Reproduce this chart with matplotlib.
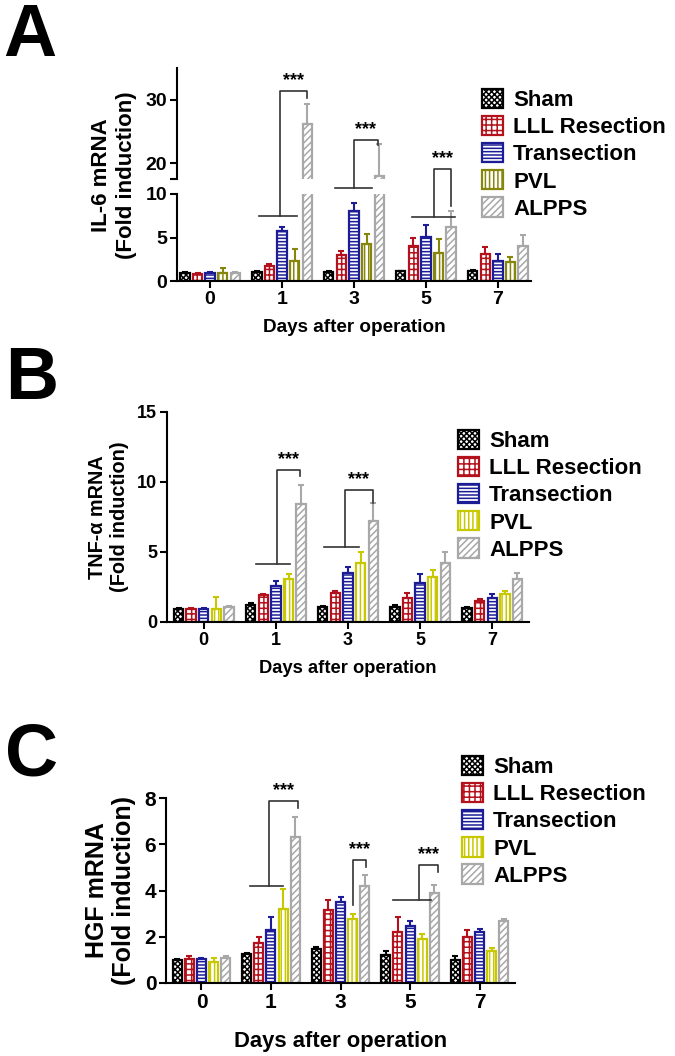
import numpy as np
import matplotlib
matplotlib.use('Agg')
import matplotlib.pyplot as plt
from matplotlib.patches import Patch
from matplotlib.lines import Line2D

plt.rcParams['font.family'] = ['Liberation Sans', 'DejaVu Sans']
plt.rcParams['font.weight'] = 'bold'
plt.rcParams['axes.labelweight'] = 'bold'
plt.rcParams['hatch.linewidth'] = 1.1

days = ['0', '1', '3', '5', '7']
groups = ['Sham', 'LLL Resection', 'Transection', 'PVL', 'ALPPS']

# rows follow groups, columns follow days
il6_mean = [[0.9, 1.0, 1.0, 1.1, 1.1],
            [0.85, 1.7, 3.0, 4.0, 3.1],
            [0.9, 5.8, 8.1, 5.1, 2.3],
            [0.9, 2.3, 4.2, 3.2, 2.2],
            [0.9, 26.2, 18.0, 6.2, 4.0]]
il6_err = [[0.1, 0.1, 0.1, 0.1, 0.15],
           [0.1, 0.3, 0.4, 1.0, 0.8],
           [0.1, 0.4, 0.9, 1.3, 0.8],
           [0.6, 1.4, 1.2, 1.6, 0.6],
           [0.1, 3.2, 5.0, 1.8, 1.3]]

tnf_mean = [[0.95, 1.25, 1.05, 1.1, 1.0],
            [0.95, 1.9, 2.1, 1.7, 1.5],
            [0.95, 2.6, 3.5, 2.8, 1.7],
            [0.9, 3.1, 4.2, 3.2, 2.0],
            [1.1, 8.4, 7.2, 4.2, 3.1]]
tnf_err = [[0.05, 0.1, 0.1, 0.1, 0.1],
           [0.05, 0.1, 0.15, 0.4, 0.15],
           [0.05, 0.3, 0.4, 0.6, 0.3],
           [0.9, 0.35, 0.8, 0.5, 0.2],
           [0.05, 1.4, 1.3, 0.8, 0.4]]

hgf_mean = [[1.0, 1.25, 1.45, 1.2, 1.0],
            [1.05, 1.75, 3.15, 2.2, 2.0],
            [1.05, 2.3, 3.5, 2.45, 2.2],
            [0.9, 3.2, 2.75, 1.9, 1.4],
            [1.1, 6.3, 4.2, 3.9, 2.7]]
hgf_err = [[0.05, 0.05, 0.1, 0.2, 0.15],
           [0.1, 0.25, 0.45, 0.65, 0.3],
           [0.05, 0.55, 0.2, 0.25, 0.15],
           [0.2, 0.85, 0.25, 0.2, 0.1],
           [0.05, 0.9, 0.45, 0.35, 0.05]]

colors_a = ['black', '#b3121c', '#1c1c96', '#86860c', '#a8a8a8']
colors_bc = ['black', '#b3121c', '#1c1c96', '#c8c800', '#a8a8a8']
hatches = ['xxxxxx', '+++', '-----', '||||', '/////']
step, width = 0.175, 0.13
LINE = '#333333'

W, H = 675, 1056
fig = plt.figure(figsize=(W / 100, H / 100), dpi=100)


def box(l, t, r, b):
    return [l / W, 1 - b / H, (r - l) / W, (b - t) / H]


def draw_bars(ax, mean, err, colors):
    x = np.arange(len(days))
    for k in range(len(groups)):
        e = np.array(err[k])
        ax.bar(x + (k - 2) * step, mean[k], width, yerr=[np.zeros_like(e), e],
               color='white', edgecolor=colors[k], hatch=hatches[k], linewidth=1.6,
               capsize=2.5, zorder=2,
               error_kw=dict(ecolor=colors[k], elinewidth=1.5, capthick=1.5, zorder=1))


def style(ax, fs, xlim):
    for s in ['top', 'right']:
        ax.spines[s].set_visible(False)
    for s in ['left', 'bottom']:
        ax.spines[s].set_linewidth(1.5)
    ax.tick_params(width=1.5, length=5, labelsize=fs, pad=2)
    ax.set_xlim(*xlim)
    ax.set_xticks(np.arange(len(days)), days)


def to_fig(pairs, x, y):
    # pairs: list of (axes, lowest value shown in it), highest first
    for ax, lo in pairs:
        if y >= lo:
            break
    p = ax.transData.transform((x, y))
    return fig.transFigure.inverted().transform(p)


def sig(pairs, g, stem, y0, top, end, drop, under=None, fs=13):
    if under is not None:
        xl, xr = under
        pts = [to_fig(pairs, g + xl, y0), to_fig(pairs, g + xr, y0)]
        fig.add_artist(Line2D([pts[0][0], pts[1][0]], [pts[0][1], pts[1][1]],
                              color=LINE, lw=1.2, transform=fig.transFigure))
    pts = [to_fig(pairs, g + stem, y0), to_fig(pairs, g + stem, top),
           to_fig(pairs, g + end, top), to_fig(pairs, g + end, drop)]
    pts[2][1] = pts[1][1]
    fig.add_artist(Line2D([p[0] for p in pts], [p[1] for p in pts],
                          color=LINE, lw=1.2, transform=fig.transFigure))
    fig.text((pts[1][0] + pts[2][0]) / 2, pts[1][1] + 0.002, '***',
             ha='center', va='bottom', fontsize=fs, color='black')


def legend(x, y, colors, fs):
    handles = [Patch(facecolor='white', edgecolor=c, hatch=h, linewidth=1.6)
               for c, h in zip(colors, hatches)]
    fig.legend(handles, groups, loc='upper left', bbox_to_anchor=(x / W, 1 - y / H),
               frameon=False, fontsize=fs, handlelength=0.95, handleheight=0.95,
               handletextpad=0.45, labelspacing=0.22, borderpad=0, borderaxespad=0)


# ---- A: IL-6, broken y axis
ax_lo = fig.add_axes(box(177, 194, 531, 281))
ax_hi = fig.add_axes(box(177, 68, 531, 179))
draw_bars(ax_lo, il6_mean, il6_err, colors_a)
draw_bars(ax_hi, il6_mean, il6_err, colors_a)
style(ax_lo, 14, (-0.46, 4.46))
style(ax_hi, 14, (-0.46, 4.46))
ax_lo.set_ylim(0, 10)
ax_lo.set_yticks([0, 5, 10])
ax_hi.set_ylim(17.5, 35)
ax_hi.set_yticks([17.5, 20, 30], ['', '20', '30'])
ax_hi.spines['bottom'].set_visible(False)
ax_hi.tick_params(axis='x', bottom=False, labelbottom=False)
ax_lo.set_xlabel('Days after operation', fontsize=13.6, labelpad=8)
fig.text(114 / W, 1 - 175 / H, 'IL-6 mRNA\n(Fold induction)', rotation=90,
         ha='center', va='center', fontsize=16, multialignment='center')
pa = [(ax_hi, 12), (ax_lo, -1)]
sig(pa, 1, -0.03, 7.5, 31.3, 0.35, 30.3, under=(-0.32, 0.21))
sig(pa, 2, 0.0, 10.7, 23.6, 0.33, 22.9, under=(-0.26, 0.25))
sig(pa, 3, 0.11, 7.4, 19.0, 0.35, 8.6, under=(-0.2, 0.4))
legend(482, 89, colors_a, 16)
fig.text(3 / W, 1 - 2 / H, 'A', fontsize=53, ha='left', va='top')

# ---- B: TNF-alpha
ax_b = fig.add_axes(box(167, 412, 529, 622))
draw_bars(ax_b, tnf_mean, tnf_err, colors_bc)
style(ax_b, 13, (-0.51, 4.51))
ax_b.set_ylim(0, 15)
ax_b.set_yticks([0, 5, 10, 15])
ax_b.set_xlabel('Days after operation', fontsize=13.2, labelpad=8)
ax_b.set_ylabel('TNF-\u03b1 mRNA\n(Fold induction)', fontsize=14.3, labelpad=6)
pb = [(ax_b, -1)]
sig(pb, 1, 0.01, 4.13, 10.85, 0.33, 10.4, under=(-0.28, 0.19))
sig(pb, 2, -0.04, 5.35, 9.43, 0.34, 8.5, under=(-0.33, 0.15))
legend(458, 430, colors_bc, 16)
fig.text(5 / W, 1 - 345 / H, 'B', fontsize=53, ha='left', va='top')

# ---- C: HGF
ax_c = fig.add_axes(box(166, 798, 515, 983))
draw_bars(ax_c, hgf_mean, hgf_err, colors_bc)
style(ax_c, 15, (-0.51, 4.51))
ax_c.set_ylim(0, 8)
ax_c.set_yticks([0, 2, 4, 6, 8])
ax_c.set_xlabel('Days after operation', fontsize=15.8, labelpad=14)
ax_c.set_ylabel('HGF mRNA\n(Fold induction)', fontsize=18, labelpad=6)
pc = [(ax_c, -1)]
sig(pc, 1, -0.03, 4.2, 7.85, 0.39, 7.58, under=(-0.3, 0.17))
sig(pc, 2, 0.18, 3.37, 5.32, 0.36, 5.03)
sig(pc, 3, 0.13, 3.59, 5.1, 0.4, 4.8, under=(-0.24, 0.3))
legend(462, 756, colors_bc, 16)
fig.text(5 / W, 1 - 722 / H, 'C', fontsize=53, ha='left', va='top')

fig.savefig('out.png', dpi=100)
